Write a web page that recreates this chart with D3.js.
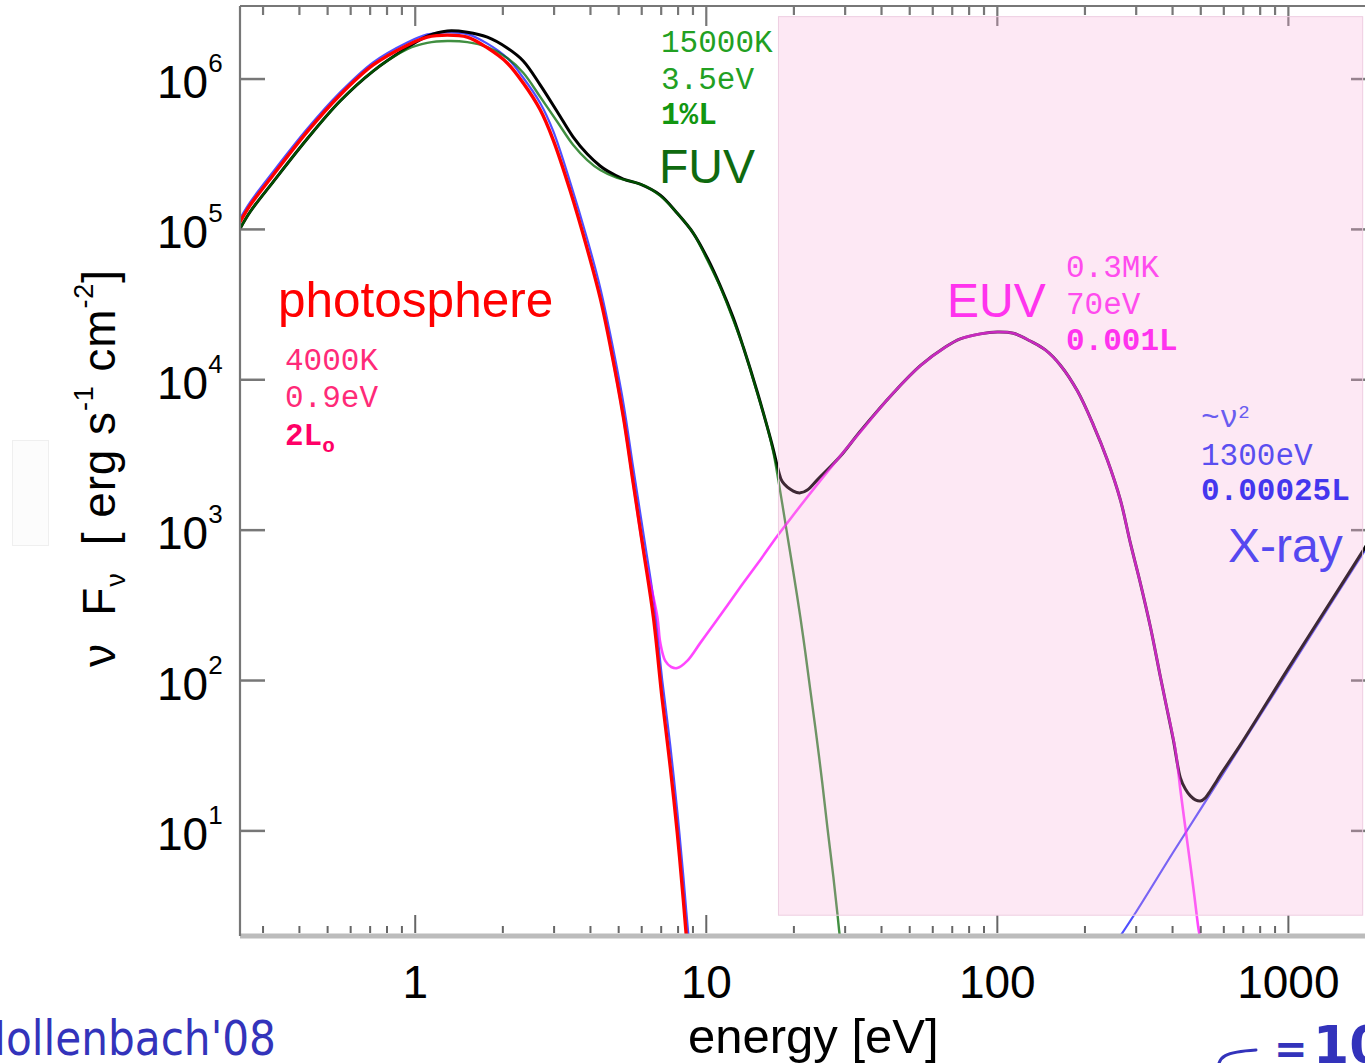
<!DOCTYPE html>
<html>
<head>
<meta charset="utf-8">
<script src="https://cdn.jsdelivr.net/npm/d3@7"></script>
<style>
  html, body { margin: 0; padding: 0; background: #fff; overflow: hidden; }
  svg { display: block; }
  .mono { font-family: "Liberation Mono", "Courier New", monospace; }
  .sans { font-family: "Liberation Sans", Arial, Helvetica, sans-serif; }
</style>
</head>
<body>
<svg id="chart" width="1365" height="1063"></svg>
<script>
// ---- axis ticks -------------------------------------------------------
const xTickValues = [1, 10, 100, 1000];
const xTickLabels = ["1", "10", "100", "1000"];
const yTickExponents = [1, 2, 3, 4, 5, 6];

// ---- spectral components: [photon energy (eV), νFν (erg s^-1 cm^-2)] --
// stellar photosphere (4000 K blackbody)
const photosphere = [
  [0.250, 1.12e5], [0.271, 1.45e5], [0.325, 2.30e5], [0.425, 4.45e5],
  [0.552, 7.83e5], [0.717, 1.24e6], [0.939, 1.68e6], [1.10, 1.90e6],
  [1.29, 1.96e6], [1.51, 1.90e6], [1.77, 1.61e6], [2.07, 1.28e6],
  [2.35, 9.40e5], [2.69, 6.22e5], [2.98, 3.93e5], [3.41, 1.80e5],
  [3.90, 7.41e4], [4.32, 3.50e4], [4.68, 1.68e4], [5.19, 5.66e3],
  [5.61, 2.06e3], [6.08, 738], [6.58, 265], [7.06, 74.3],
  [7.52, 26.7], [7.95, 9.7], [8.34, 3.48], [8.54, 2.0], [8.8, 1.0]
];

// photosphere + X-ray power law
const photosphereXray = [
  [0.250, 1.18e5], [0.271, 1.52e5], [0.325, 2.42e5], [0.425, 4.65e5],
  [0.552, 8.15e5], [0.717, 1.29e6], [0.939, 1.75e6], [1.10, 1.98e6],
  [1.29, 2.04e6], [1.51, 1.99e6], [1.77, 1.72e6], [2.07, 1.38e6],
  [2.35, 1.02e6], [2.69, 6.90e5], [2.98, 4.50e5], [3.41, 2.05e5],
  [3.90, 8.60e4], [4.32, 4.10e4], [4.68, 2.00e4], [5.19, 7.00e3],
  [5.61, 2.60e3], [6.08, 950], [6.58, 350], [7.06, 100],
  [7.52, 37], [7.95, 13.5], [8.34, 5.0], [8.54, 2.9], [8.9, 1.2],
  [245, 1.6], [300, 2.9], [400, 7.1], [500, 14.0], [700, 39],
  [1000, 116], [1500, 400], [2000, 960]
];

// photosphere + FUV (15000 K) component
const photosphereFUV = [
  [0.250, 1.01e5], [0.271, 1.31e5], [0.325, 2.07e5], [0.425, 3.99e5],
  [0.552, 7.14e5], [0.717, 1.13e6], [0.939, 1.58e6], [1.10, 1.74e6],
  [1.29, 1.79e6], [1.51, 1.76e6], [1.77, 1.63e6], [2.07, 1.38e6],
  [2.35, 1.10e6], [2.69, 7.59e5], [3.08, 5.18e5], [3.49, 3.64e5],
  [3.90, 2.89e5], [4.32, 2.48e5], [4.94, 2.20e5], [5.61, 2.07e5],
  [6.27, 1.91e5], [6.95, 1.67e5], [7.95, 1.28e5], [9.02, 9.46e4],
  [10.08, 6.26e4], [11.17, 4.14e4], [12.38, 2.50e4], [13.40, 1.65e4],
  [14.97, 8.17e3], [16.20, 4.86e3], [16.99, 3.31e3], [17.68, 2.16e3],
  [18.39, 1.36e3], [19.13, 847], [19.91, 527], [21.04, 265],
  [21.88, 155], [22.77, 86.6], [23.88, 43.4], [25.04, 20.8],
  [26.06, 10.6], [27.33, 4.94], [28.20, 2.85], [28.87, 1.88], [30.0, 1.2]
];

// photosphere + EUV (0.3 MK) component
const photosphereEUV = [
  [4.68, 1.68e4], [5.19, 5.66e3], [5.61, 2.06e3], [6.08, 738],
  [6.79, 265], [6.95, 178], [7.23, 135], [7.58, 123], [7.95, 121],
  [8.60, 135], [9.54, 178], [10.57, 234], [11.81, 316], [13.40, 445],
  [15.33, 634], [17.54, 914], [19.91, 1.26e3], [22.24, 1.66e3],
  [26.06, 2.44e3], [33.82, 4.50e3], [43.93, 8.17e3], [54.38, 1.24e4],
  [66.3, 1.65e4], [74.6, 1.87e4], [87.43, 2.02e4], [100, 2.08e4],
  [113.5, 2.04e4], [129.8, 1.81e4], [146.2, 1.58e4], [164.7, 1.25e4],
  [188.3, 8.44e3], [213.8, 5.00e3], [238.8, 2.93e3], [264.7, 1.59e3],
  [286.4, 822], [310.0, 445], [335.7, 227], [363.2, 106],
  [377.8, 73.1], [409.0, 34.6], [425.6, 18.7], [442.6, 10.5],
  [460.5, 5.94], [475.3, 3.70], [490.6, 2.26], [498.5, 1.88], [510, 1.2]
];

// sum of all components
const totalSpectrum = [
  [0.250, 1.01e5], [0.271, 1.31e5], [0.325, 2.07e5], [0.425, 3.99e5],
  [0.552, 7.14e5], [0.717, 1.13e6], [0.939, 1.62e6], [1.10, 1.93e6],
  [1.29, 2.09e6], [1.51, 2.05e6], [1.77, 1.90e6], [2.07, 1.61e6],
  [2.35, 1.32e6], [2.69, 9.12e5], [3.08, 6.04e5], [3.49, 4.11e5],
  [3.90, 3.17e5], [4.32, 2.64e5], [4.57, 2.45e5], [5.19, 2.16e5],
  [5.93, 2.00e5], [6.95, 1.69e5], [7.95, 1.28e5], [9.02, 9.46e4],
  [10.08, 6.45e4], [11.17, 4.21e4], [12.38, 2.58e4], [13.40, 1.65e4],
  [14.97, 8.30e3], [16.20, 4.86e3], [16.99, 3.45e3], [17.68, 2.51e3],
  [18.25, 2.10e3], [19.91, 1.82e3], [21.04, 1.77e3], [22.24, 1.85e3],
  [24.07, 2.16e3], [28.87, 3.10e3], [33.82, 4.55e3], [43.93, 8.17e3],
  [54.38, 1.24e4], [66.3, 1.65e4], [74.6, 1.87e4], [87.43, 2.02e4],
  [100, 2.08e4], [113.5, 2.04e4], [129.8, 1.81e4], [146.2, 1.58e4],
  [164.7, 1.25e4], [188.3, 8.44e3], [213.8, 5.00e3], [238.8, 2.93e3],
  [264.7, 1.59e3], [286.4, 822], [310.0, 445], [335.7, 227],
  [363.2, 106], [377.8, 73.1], [402.5, 40.3], [425.6, 22.5],
  [442.6, 19.0], [460.5, 17.1], [479.0, 16.1], [498.5, 15.8],
  [518.5, 16.6], [539.5, 18.5], [561.2, 20.8], [584, 23.6],
  [684, 37.3], [1000, 121], [1500, 415], [2000, 1000]
];

// shaded ionizing band (energy range, flux range)
const bandEnergy = [17.7, 1800];
const bandFlux = [2.75, 2.6e6];

// ---- scales -----------------------------------------------------------
const svg = d3.select("#chart");
const x = d3.scaleLog().domain([0.25, 2000]).range([240, 1376]);
const y = d3.scaleLog().domain([2, 3.06e6]).range([936, 6]);
const [x0, x1] = x.range();
const [yB, yT] = y.range();

svg.append("rect").attr("width", 1365).attr("height", 1063).attr("fill", "#fff");

// faint frame at the left margin
svg.append("rect").attr("x", 12.5).attr("y", 440.5).attr("width", 36).attr("height", 105)
  .attr("fill", "#fcfcfc").attr("stroke", "#efefef");

svg.append("clipPath").attr("id", "plotClip")
  .append("rect").attr("x", x0).attr("y", yT).attr("width", x1 - x0).attr("height", yB - yT);

const line = d3.line()
  .x(d => x(d[0]))
  .y(d => y(d[1]))
  .curve(d3.curveCatmullRom.alpha(0.5));

// break a series where it leaves the plot for a long energy stretch
function segments(data) {
  const out = [[data[0]]];
  for (let i = 1; i < data.length; i++) {
    if (data[i][0] / data[i - 1][0] > 5) out.push([]);
    out[out.length - 1].push(data[i]);
  }
  return out;
}

const curves = svg.append("g").attr("clip-path", "url(#plotClip)")
  .attr("fill", "none").attr("stroke-linejoin", "round").attr("stroke-linecap", "round");

const series = [
  { data: photosphereXray, color: "#4f4fff", width: 2.2, opacity: 1 },
  { data: totalSpectrum,   color: "#000000", width: 3.0, opacity: 1 },
  { data: photosphereFUV,  color: "#006a00", width: 2.4, opacity: 0.75 },
  { data: photosphereEUV,  color: "#ff00ff", width: 2.6, opacity: 0.72 },
  { data: photosphere,     color: "#ff0000", width: 3.4, opacity: 1 }
];
series.forEach(s => {
  segments(s.data).forEach(seg => {
    curves.append("path").attr("d", line(seg))
      .attr("stroke", s.color).attr("stroke-width", s.width)
      .attr("stroke-opacity", s.opacity);
  });
});

// ---- axes frame -------------------------------------------------------
const axisColor = "#777";
const allXTicks = x.ticks();
const isMajor = v => Math.abs(Math.log10(v) - Math.round(Math.log10(v))) < 1e-9;

const frame = svg.append("g");
// bottom axis
frame.append("line").attr("x1", x0).attr("x2", x1).attr("y1", yB).attr("y2", yB)
  .attr("stroke", "#bcbcbc").attr("stroke-width", 5);
frame.selectAll(".bt").data(allXTicks).join("line")
  .attr("x1", d => x(d)).attr("x2", d => x(d))
  .attr("y1", yB - 3).attr("y2", d => yB - (isMajor(d) ? 21 : 10))
  .attr("stroke", "#666").attr("stroke-width", 2);
// top axis
frame.append("line").attr("x1", x0).attr("x2", x1 + 10).attr("y1", yT).attr("y2", yT)
  .attr("stroke", axisColor).attr("stroke-width", 2.2);
frame.selectAll(".tt").data(allXTicks).join("line")
  .attr("x1", d => x(d)).attr("x2", d => x(d))
  .attr("y1", yT).attr("y2", d => yT + (isMajor(d) ? 20 : 9))
  .attr("stroke", axisColor).attr("stroke-width", 2.2);
// left axis
frame.append("line").attr("x1", x0).attr("x2", x0).attr("y1", yT).attr("y2", yB)
  .attr("stroke", axisColor).attr("stroke-width", 2.2);
const yTicks = yTickExponents.map(e => Math.pow(10, e));
frame.selectAll(".lt").data(yTicks).join("line")
  .attr("x1", x0).attr("x2", x0 + 25)
  .attr("y1", d => y(d)).attr("y2", d => y(d))
  .attr("stroke", axisColor).attr("stroke-width", 2.5);
// right axis
frame.append("line").attr("x1", x1).attr("x2", x1).attr("y1", yT).attr("y2", yB)
  .attr("stroke", axisColor).attr("stroke-width", 2.2);
frame.selectAll(".rt").data(yTicks).join("line")
  .attr("x1", x1 - 25).attr("x2", x1)
  .attr("y1", d => y(d)).attr("y2", d => y(d))
  .attr("stroke", axisColor).attr("stroke-width", 2.5);

// ---- shaded band (translucent, over curves) ---------------------------
svg.append("rect")
  .attr("x", x(bandEnergy[0])).attr("y", y(bandFlux[1]))
  .attr("width", x(bandEnergy[1]) - x(bandEnergy[0]))
  .attr("height", y(bandFlux[0]) - y(bandFlux[1]))
  .attr("fill", "rgb(247,163,211)").attr("fill-opacity", 0.25)
  .attr("stroke", "rgb(238,206,225)").attr("stroke-width", 1);

// ---- tick labels ------------------------------------------------------
svg.append("g").attr("class", "sans").selectAll("text").data(xTickValues).join("text")
  .attr("x", d => x(d)).attr("y", 998)
  .attr("text-anchor", "middle").attr("font-size", 46).attr("fill", "#000")
  .text((d, i) => xTickLabels[i]);

const yl = svg.append("g").attr("class", "sans").selectAll("text").data(yTickExponents).join("text")
  .attr("x", 157).attr("y", d => y(Math.pow(10, d)) + 19)
  .attr("font-size", 46).attr("fill", "#000");
yl.append("tspan").text("10");
yl.append("tspan").attr("font-size", 26).attr("dy", -26).text(d => d);

// ---- axis titles ------------------------------------------------------
svg.append("text").attr("class", "sans")
  .attr("x", 688).attr("y", 1053).attr("font-size", 49).attr("fill", "#000")
  .text("energy [eV]");

const yt = svg.append("text").attr("class", "sans")
  .attr("transform", "translate(115,667) rotate(-90)")
  .attr("font-size", 46).attr("fill", "#000")
  .attr("textLength", 397).attr("lengthAdjust", "spacing")
  .style("white-space", "pre");
yt.append("tspan").text("ν  F");
yt.append("tspan").attr("font-size", 27).attr("dy", 10).text("ν");
yt.append("tspan").attr("dy", -10).text("  [ erg s");
yt.append("tspan").attr("font-size", 27).attr("dy", -22).text("-1");
yt.append("tspan").attr("dy", 22).text(" cm");
yt.append("tspan").attr("font-size", 27).attr("dy", -22).text("-2");
yt.append("tspan").attr("dy", 22).text("]");

// ---- component annotations --------------------------------------------
const ann = svg.append("g");
function label(xp, yp, txt, color, size, cls, weight) {
  return ann.append("text").attr("class", cls)
    .attr("x", xp).attr("y", yp).attr("font-size", size)
    .attr("font-weight", weight || "normal").attr("fill", color).text(txt);
}
// photosphere
label(278, 317, "photosphere", "#ff0000", 49.5, "sans");
label(285, 370, "4000K", "#ff2a78", 31, "mono");
label(285, 407, "0.9eV", "#ff2a78", 31, "mono");
const lsun = label(285, 445, "", "#ff0066", 31, "mono", "bold");
lsun.append("tspan").text("2L");
lsun.append("tspan").attr("font-size", 21).attr("dy", 7).text("o");
// FUV
label(661, 52, "15000K", "#22a022", 31, "mono");
label(661, 89, "3.5eV", "#22a022", 31, "mono");
label(661, 124, "1%L", "#119611", 31, "mono", "bold");
label(659, 183, "FUV", "#0f6a0f", 48, "sans");
// EUV
label(947, 317, "EUV", "#ff33ee", 48, "sans");
label(1066, 277, "0.3MK", "#ff4cee", 31, "mono");
label(1066, 314, "70eV", "#ff4cee", 31, "mono");
label(1066, 350, "0.001L", "#ff33ee", 31, "mono", "bold");
// X-ray
const nu2 = label(1201, 427, "", "#6a5cf0", 31, "mono");
nu2.append("tspan").text("~ν");
nu2.append("tspan").attr("font-size", 19).attr("dy", -9).text("2");
label(1201, 465, "1300eV", "#5a4ef0", 31, "mono");
label(1201, 500, "0.00025L", "#4436ee", 31, "mono", "bold");
label(1228, 562, "X-ray", "#5548f0", 48, "sans");

// ---- slide footnotes --------------------------------------------------
svg.append("text")
  .attr("transform", "translate(276,1055) scale(0.88,1)")
  .attr("text-anchor", "end")
  .attr("font-family", "'DejaVu Sans', sans-serif")
  .attr("font-size", 48).attr("fill", "#3333bb")
  .text("Hollenbach'08");

svg.append("path")
  .attr("d", "M1218,1068 C1219,1057 1224,1052 1256,1050")
  .attr("fill", "none").attr("stroke", "#3333bb").attr("stroke-width", 3)
  .attr("stroke-linecap", "round");
const eq = svg.append("text")
  .attr("font-family", "'DejaVu Sans', sans-serif").attr("font-weight", "bold")
  .attr("fill", "#3333bb").attr("y", 1063);
eq.append("tspan").attr("x", 1274).attr("font-size", 40).text("=");
eq.append("tspan").attr("x", 1313).attr("font-size", 52).text("10");
</script>
</body>
</html>
